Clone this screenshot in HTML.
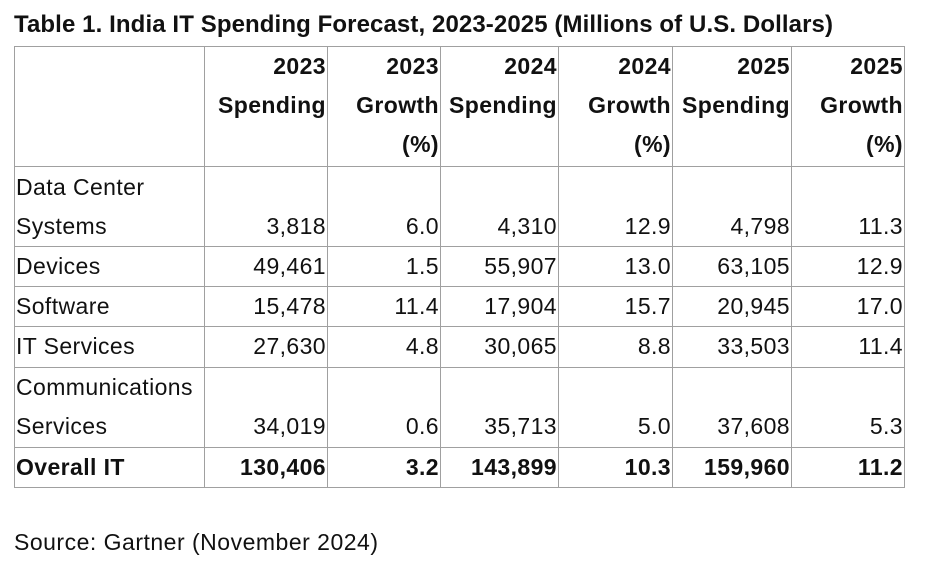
<!DOCTYPE html>
<html><head><meta charset="utf-8"><style>
html,body{margin:0;padding:0;background:#fff;width:925px;height:565px;overflow:hidden;font-family:"Liberation Sans",sans-serif;color:#111}
#title{position:absolute;left:14px;top:11px;font-size:24px;font-weight:bold;letter-spacing:0.1px;white-space:nowrap}
table{position:absolute;left:14px;top:46px;border-collapse:collapse;table-layout:fixed;font-size:23px;letter-spacing:0.4px}
td{border:1px solid #a0a0a0;padding:0 1px 0 1px;line-height:39.2px;vertical-align:bottom;text-align:right;white-space:nowrap;overflow:hidden}
td.l{text-align:left}
tr.h td{font-weight:bold;vertical-align:top}
tr.b td{font-weight:bold}
#src{position:absolute;left:14px;top:529px;font-size:23px;letter-spacing:0.5px;white-space:nowrap}
</style></head><body>
<div id="title">Table 1. India IT Spending Forecast, 2023-2025 (Millions of U.S. Dollars)</div>
<table>
<colgroup><col style="width:190px"><col style="width:123px"><col style="width:113px"><col style="width:118px"><col style="width:114px"><col style="width:119px"><col style="width:113px"></colgroup>
<tr class="h" style="height:120px"><td></td><td>2023<br>Spending</td><td>2023<br>Growth<br>(%)</td><td>2024<br>Spending</td><td>2024<br>Growth<br>(%)</td><td>2025<br>Spending</td><td>2025<br>Growth<br>(%)</td></tr>
<tr style="height:80px"><td class="l">Data Center<br>Systems</td><td>3,818</td><td>6.0</td><td>4,310</td><td>12.9</td><td>4,798</td><td>11.3</td></tr>
<tr style="height:40px"><td class="l">Devices</td><td>49,461</td><td>1.5</td><td>55,907</td><td>13.0</td><td>63,105</td><td>12.9</td></tr>
<tr style="height:40px"><td class="l">Software</td><td>15,478</td><td>11.4</td><td>17,904</td><td>15.7</td><td>20,945</td><td>17.0</td></tr>
<tr style="height:40px"><td class="l">IT Services</td><td>27,630</td><td>4.8</td><td>30,065</td><td>8.8</td><td>33,503</td><td>11.4</td></tr>
<tr style="height:80px"><td class="l">Communications<br>Services</td><td>34,019</td><td>0.6</td><td>35,713</td><td>5.0</td><td>37,608</td><td>5.3</td></tr>
<tr class="b" style="height:40px"><td class="l">Overall IT</td><td>130,406</td><td>3.2</td><td>143,899</td><td>10.3</td><td>159,960</td><td>11.2</td></tr>
</table>
<div id="src">Source: Gartner (November 2024)</div>
</body></html>
